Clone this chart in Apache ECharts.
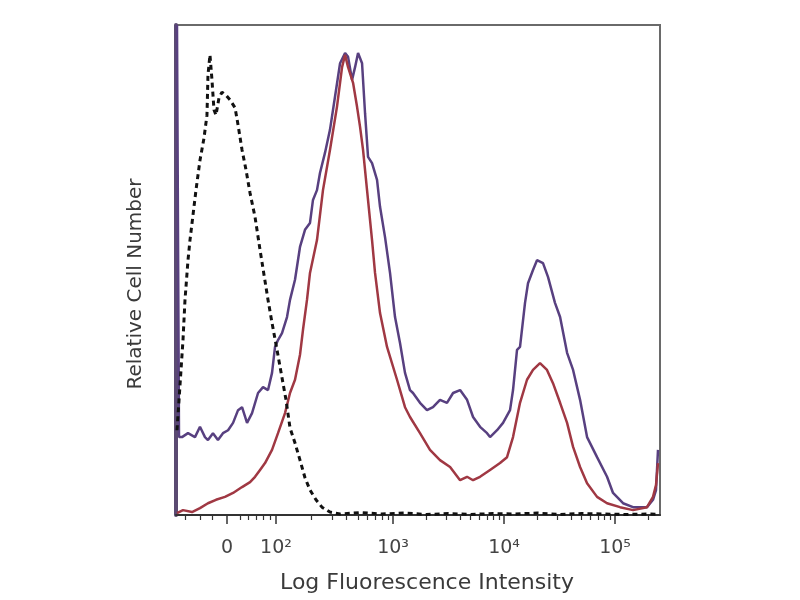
<!DOCTYPE html>
<html>
<head>
<meta charset="utf-8">
<script src="https://cdn.jsdelivr.net/npm/echarts@6/dist/echarts.min.js"></script>
<style>html,body{margin:0;padding:0;background:#fff;}#chart{width:800px;height:600px;}</style>
</head>
<body>
<div id="chart"></div>
<script>
// x in display decade units (10^3 = 3), y = relative cell number (% of max)
const isotypeControl = [
  [1.054,17.3],[1.081,26.5],[1.108,35.7],[1.126,43.9],[1.153,52.0],[1.171,56.1],[1.198,61.2],[1.225,66.3],
  [1.261,72.4],[1.297,76.9],[1.324,81.6],[1.333,89.8],[1.351,93.9],[1.369,88.8],[1.387,82.7],[1.405,81.6],
  [1.432,85.1],[1.459,86.3],[1.495,85.7],[1.532,84.7],[1.577,83.1],[1.604,79.6],[1.640,74.5],[1.676,70.4],
  [1.712,65.7],[1.757,60.8],[1.802,54.1],[1.838,49.0],[1.874,43.9],[1.910,39.2],[1.955,33.7],[2.000,28.0],
  [2.036,23.5],[2.072,17.8],[2.117,14.7],[2.162,11.2],[2.207,7.6],[2.252,5.1],[2.306,3.1],[2.360,1.6],
  [2.432,0.6],[2.523,0.2],[2.7,0.5],[2.9,0.2],[3.1,0.4],[3.3,0.1],[3.5,0.3],[3.7,0.1],[3.9,0.3],[4.1,0.2],
  [4.3,0.4],[4.5,0.1],[4.7,0.3],[4.9,0.2],[5.1,0.1],[5.3,0.2],[5.4,0.1]
];
const sampleA = [ // purple
  [1.054,100],[1.072,15.9],[1.099,15.9],[1.153,16.7],[1.216,15.9],[1.261,18.0],[1.306,15.9],[1.333,15.3],
  [1.378,16.7],[1.423,15.3],[1.468,16.7],[1.514,17.3],[1.559,18.8],[1.604,21.4],[1.640,22.0],[1.685,18.8],
  [1.730,20.8],[1.784,24.9],[1.829,26.1],[1.874,25.5],[1.910,29.0],[1.937,34.3],[1.964,35.7],[2.000,37.1],
  [2.045,40.4],[2.072,43.9],[2.117,48.0],[2.162,54.7],[2.207,58.2],[2.252,59.6],[2.279,64.3],[2.315,66.3],
  [2.342,69.8],[2.387,73.9],[2.432,78.6],[2.477,85.3],[2.523,92.2],[2.568,94.3],[2.595,93.5],[2.631,88.8],
  [2.658,91.4],[2.685,94.3],[2.721,92.2],[2.748,82.0],[2.775,73.1],[2.811,71.8],[2.856,68.4],[2.883,62.9],
  [2.928,56.7],[2.973,49.4],[3.018,40.4],[3.063,35.1],[3.108,29.0],[3.153,25.5],[3.180,24.9],[3.243,22.9],
  [3.306,21.4],[3.360,22.0],[3.423,23.5],[3.486,22.9],[3.541,24.9],[3.604,25.5],[3.667,23.5],[3.721,20.0],
  [3.784,18.0],[3.847,16.7],[3.874,15.9],[3.937,17.3],[3.991,18.8],[4.054,21.4],[4.081,25.5],[4.117,33.7],
  [4.144,34.3],[4.189,43.3],[4.216,47.3],[4.261,50.0],[4.297,52.0],[4.351,51.4],[4.396,48.6],[4.459,43.3],
  [4.505,40.4],[4.568,33.1],[4.622,29.6],[4.685,23.5],[4.748,15.9],[4.838,11.8],[4.928,7.8],[4.982,4.5],
  [5.072,2.4],[5.162,1.6],[5.288,1.6],[5.342,3.1],[5.369,5.1],[5.387,13.3]
];
const sampleB = [ // red
  [1.054,0.4],[1.108,1.0],[1.189,0.6],[1.261,1.4],[1.333,2.4],[1.405,3.1],[1.486,3.7],[1.559,4.5],
  [1.640,5.7],[1.712,6.7],[1.757,7.8],[1.802,9.2],[1.847,10.6],[1.910,13.3],[1.964,16.7],[2.027,20.8],
  [2.072,24.9],[2.117,27.6],[2.162,32.7],[2.189,37.8],[2.225,43.9],[2.252,49.4],[2.315,56.1],[2.369,66.3],
  [2.432,74.5],[2.495,83.3],[2.541,91.4],[2.568,93.9],[2.595,91.4],[2.640,88.2],[2.676,83.3],[2.703,79.2],
  [2.730,74.5],[2.766,66.3],[2.811,56.1],[2.838,49.4],[2.883,41.2],[2.946,34.3],[3.036,27.6],[3.108,22.0],
  [3.153,20.0],[3.243,16.7],[3.333,13.3],[3.423,11.2],[3.514,9.8],[3.604,7.1],[3.667,7.8],[3.721,7.1],
  [3.784,7.8],[3.874,9.2],[3.964,10.6],[4.027,11.8],[4.081,15.9],[4.144,22.9],[4.207,27.6],[4.261,29.6],
  [4.324,31.0],[4.387,29.6],[4.441,26.9],[4.505,22.9],[4.568,18.8],[4.622,13.9],[4.685,9.8],[4.748,6.5],
  [4.838,3.7],[4.928,2.4],[5.045,1.6],[5.162,1.0],[5.288,1.6],[5.342,3.7],[5.369,6.1],[5.387,10.6]
];
const majorTickValues = [1.505, 1.946, 3, 4, 5];
const majorTickLabels = ['0', '10²', '10³', '10⁴', '10⁵'];
const minorTickValues = [1.126,1.261,1.369,1.622,1.694,1.766,1.829,1.892,
  2.261,2.450,2.577,2.685,2.766,2.838,2.901,2.955,
  3.301,3.477,3.602,3.699,3.778,3.845,3.903,3.954,
  4.301,4.477,4.602,4.699,4.778,4.845,4.903,4.954,5.301];
const xTitle = 'Log Fluorescence Intensity';
const yTitle = 'Relative Cell Number';

const X_MIN = 1.045, X_MAX = 5.405;
const labelMap = {};
majorTickValues.forEach((v, i) => labelMap[v] = majorTickLabels[i]);

const chart = echarts.init(document.getElementById('chart'), null, {renderer: 'canvas'});
chart.setOption({
  animation: false,
  backgroundColor: '#ffffff',
  grid: {left: 176, top: 25, width: 484, height: 490, show: true, borderColor: '#6a6a6a', borderWidth: 2, backgroundColor: 'transparent'},
  xAxis: [{
    type: 'value', min: X_MIN, max: X_MAX, position: 'bottom',
    axisLine: {show: true, lineStyle: {color: '#333', width: 2}},
    splitLine: {show: false},
    axisTick: {show: true, customValues: majorTickValues, length: 9, lineStyle: {color: '#333', width: 1.5}},
    axisLabel: {show: true, customValues: majorTickValues, margin: 24,
      formatter: v => labelMap[v] !== undefined ? labelMap[v] : '',
      fontFamily: 'DejaVu Sans', fontSize: 19, color: '#444'}
  }, {
    type: 'value', min: X_MIN, max: X_MAX, position: 'bottom', gridIndex: 0,
    axisLine: {show: false}, splitLine: {show: false},
    axisTick: {show: true, customValues: minorTickValues, length: 5, lineStyle: {color: '#333', width: 1.2}},
    axisLabel: {show: false}
  }],
  yAxis: {
    type: 'value', min: 0, max: 100,
    axisLine: {show: true, lineStyle: {color: '#5b4a72', width: 4}},
    axisTick: {show: false}, axisLabel: {show: false}, splitLine: {show: false}
  },
  series: [
    {type: 'line', name: 'Sample A', data: sampleA, showSymbol: false, z: 2,
     lineStyle: {color: '#584080', width: 2.5}},
    {type: 'line', name: 'Sample B', data: sampleB, showSymbol: false, z: 3,
     lineStyle: {color: '#a03843', width: 2.5}},
    {type: 'line', name: 'Isotype control', data: isotypeControl, showSymbol: false, z: 4,
     lineStyle: {color: '#111', width: 3, type: [5, 4]}}
  ],
  graphic: [
    {type: 'text', x: 427, y: 583, style: {text: xTitle, font: '22px "DejaVu Sans"', fill: '#3a3a3a', align: 'center', verticalAlign: 'middle'}},
    {type: 'text', x: 136, y: 284, rotation: Math.PI / 2, style: {text: yTitle, font: '20px "DejaVu Sans"', fill: '#3a3a3a', align: 'center', verticalAlign: 'middle'}}
  ]
});
</script>
</body>
</html>
